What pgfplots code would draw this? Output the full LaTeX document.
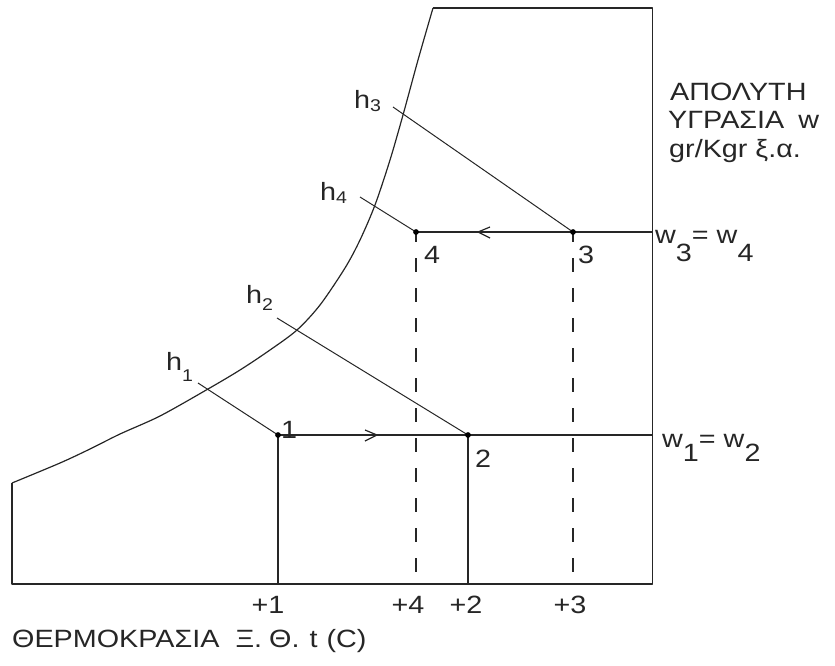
\documentclass[border=0pt]{standalone}
\usepackage{pgfplots}
\pgfplotsset{compat=1.18}
\usepackage{fontspec}
\setmainfont{Liberation Sans}[FakeStretch=1.15]
\tikzset{
  lab/.style={font=\fontsize{25}{30}\selectfont, inner sep=0pt, anchor=base west, text=black!85},
  num/.style={font=\fontsize{25}{30}\selectfont, inner sep=0pt, anchor=base, text=black!85},
}
\begin{document}
\begin{tikzpicture}
\begin{axis}[
  width=835pt, height=665pt, scale only axis,
  xmin=0, xmax=835, ymin=0, ymax=665, y dir=reverse,
  hide axis, clip=false,
  every axis plot/.append style={line join=round},
]
\addplot[draw=none, forget plot] coordinates {(0,0) (835,665)};
% outline
\addplot[black!85, line width=1.6pt] coordinates {(433,8) (652.5,8) (652.5,584) (12,584) (12,483)};
% saturation curve
\addplot[black!85, line width=1.2pt, smooth, tension=0.5] coordinates {
 (12,483) (60,463) (90,449) (120,434) (160,416) (208,389) (240,370) (270,350)
 (297,330) (320,305) (345,268) (360,240) (375,205) (390,160) (403,115) (418,60) (433,8)};
% constant humidity lines
\addplot[black!85, line width=1.6pt] coordinates {(278,435) (652.5,435)};
\addplot[black!85, line width=1.6pt] coordinates {(416,232) (652.5,232)};
% vertical solid lines
\addplot[black!85, line width=1.6pt] coordinates {(278,435) (278,584)};
\addplot[black!85, line width=1.6pt] coordinates {(468,435) (468,584)};
% vertical dashed lines
\addplot[black!85, line width=1.6pt, dash pattern=on 14pt off 16pt, dash phase=4pt] coordinates {(416,232) (416,584)};
\addplot[black!85, line width=1.6pt, dash pattern=on 14pt off 16pt, dash phase=4pt] coordinates {(573,232) (573,584)};
% enthalpy lines
\addplot[black!85, line width=1pt] coordinates {(198,383) (278,435)};
\addplot[black!85, line width=1pt] coordinates {(277,318) (468,435)};
\addplot[black!85, line width=1pt] coordinates {(393,107) (573,232)};
\addplot[black!85, line width=1pt] coordinates {(360,197) (416,232)};
% arrows
\addplot[black!85, line width=1.2pt] coordinates {(365,430) (377,435) (365,441)};
\addplot[black!85, line width=1.2pt] coordinates {(490,227) (478,232) (490,238)};
% state points
\addplot[only marks, mark=*, mark size=2.6pt, black] coordinates {(278,435) (468,435) (573,232) (416,232)};
% labels
\node[lab] at (axis cs:670,100) {ΑΠΟΛΥΤΗ};
\node[lab] at (axis cs:668,128) {ΥΓΡΑΣΙΑ\hspace{14pt}w};
\node[lab] at (axis cs:669,157) {gr/Kgr ξ.α.};
\node[lab] at (axis cs:655,243) {w\raisebox{-18pt}{3}= w\raisebox{-18pt}{4}};
\node[lab] at (axis cs:662,447) {w\raisebox{-14pt}{1}= w\raisebox{-14pt}{2}};
\node[lab] at (axis cs:166,370) {h\raisebox{-11pt}{\fontsize{17}{20}\selectfont 1}};
\node[lab] at (axis cs:246,303) {h\raisebox{-7pt}{\fontsize{17}{20}\selectfont 2}};
\node[lab] at (axis cs:354,108) {h\raisebox{-3pt}{\fontsize{17}{20}\selectfont 3}};
\node[lab] at (axis cs:320,200) {h\raisebox{-3pt}{\fontsize{17}{20}\selectfont 4}};
\node[num] at (axis cs:289,438) {1};
\node[num] at (axis cs:483,467) {2};
\node[num] at (axis cs:586,263) {3};
\node[num] at (axis cs:432,263) {4};
\node[num] at (axis cs:268,613) {+1};
\node[num] at (axis cs:408,613) {+4};
\node[num] at (axis cs:466,613) {+2};
\node[num] at (axis cs:570,613) {+3};
\node[lab] at (axis cs:12,647) {ΘΕΡΜΟΚΡΑΣΙΑ\hspace{16pt}Ξ.\hspace{7pt}Θ.\hspace{10pt}t\hspace{9pt}(C)};
\end{axis}
\end{tikzpicture}
\end{document}
